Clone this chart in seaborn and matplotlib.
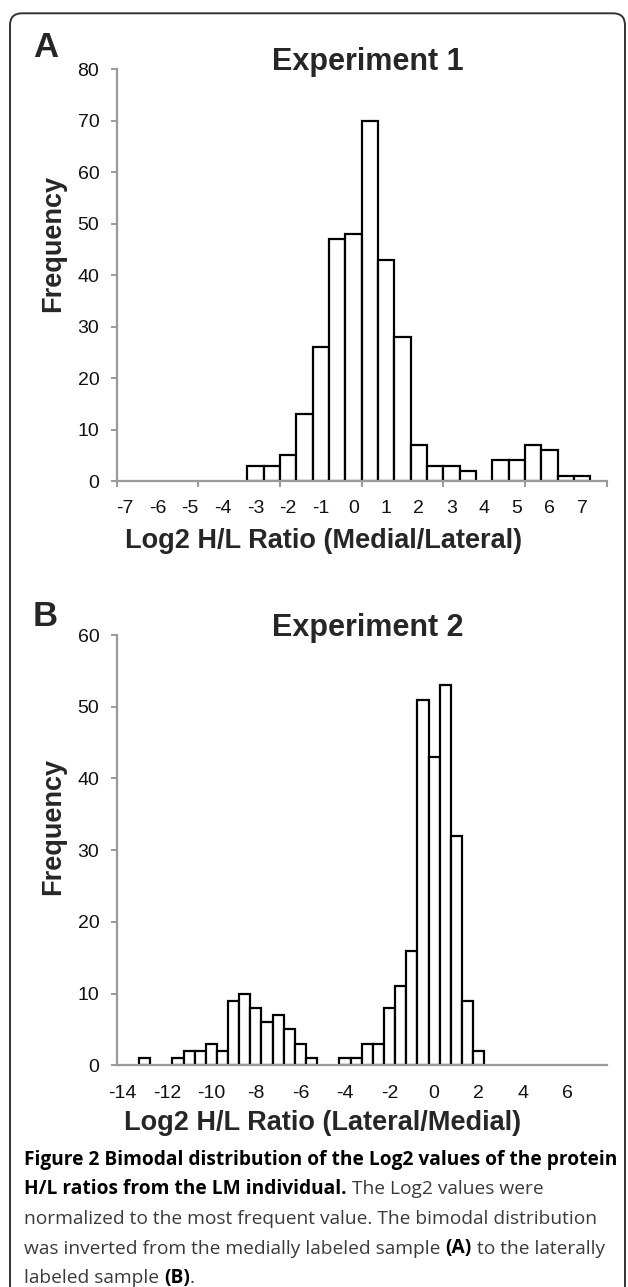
import numpy as np
import pandas as pd
import matplotlib
matplotlib.use("Agg")
import matplotlib.pyplot as plt
import seaborn as sns
from matplotlib.patches import FancyBboxPatch
from matplotlib.transforms import IdentityTransform

# ---------------- data ----------------
# Panel A: bin centres (Log2 H/L, Medial/Lateral) and frequencies
a_bins = [-7.0, -6.5, -6.0, -5.5, -5.0, -4.5, -4.0, -3.5, -3.0, -2.5,
          -2.0, -1.5, -1.0, -0.5, 0.0, 0.5, 1.0, 1.5, 2.0, 2.5,
          3.0, 3.5, 4.0, 4.5, 5.0, 5.5, 6.0, 6.5, 7.0, 7.5]
a_counts = [0, 0, 0, 0, 0, 0, 0, 0, 3, 3,
            5, 13, 26, 47, 48, 70, 43, 28, 7, 3,
            3, 2, 0, 4, 4, 7, 6, 1, 1, 0]
a_tick_values = [-7, -6, -5, -4, -3, -2, -1, 0, 1, 2, 3, 4, 5, 6, 7]
a_tick_labels = ["-7", "-6", "-5", "-4", "-3", "-2", "-1", "0", "1", "2", "3", "4", "5", "6", "7"]
a_yticks = [0, 10, 20, 30, 40, 50, 60, 70, 80]

# Panel B: bin centres (Log2 H/L, Lateral/Medial) and frequencies
b_bins = [-14.0, -13.5, -13.0, -12.5, -12.0, -11.5, -11.0, -10.5, -10.0, -9.5,
          -9.0, -8.5, -8.0, -7.5, -7.0, -6.5, -6.0, -5.5, -5.0, -4.5,
          -4.0, -3.5, -3.0, -2.5, -2.0, -1.5, -1.0, -0.5, 0.0, 0.5,
          1.0, 1.5, 2.0, 2.5, 3.0, 3.5, 4.0, 4.5, 5.0, 5.5,
          6.0, 6.5, 7.0, 7.5]
b_counts = [0, 0, 1, 0, 0, 1, 2, 2, 3, 2,
            9, 10, 8, 6, 7, 5, 3, 1, 0, 0,
            1, 1, 3, 3, 8, 11, 16, 51, 43, 53,
            32, 9, 2, 0, 0, 0, 0, 0, 0, 0,
            0, 0, 0, 0]
b_tick_values = [-14, -12, -10, -8, -6, -4, -2, 0, 2, 4, 6]
b_tick_labels = ["-14", "-12", "-10", "-8", "-6", "-4", "-2", "0", "2", "4", "6"]
b_yticks = [0, 10, 20, 30, 40, 50, 60]

title_a = "Experiment 1"
title_b = "Experiment 2"
xlabel_a = "Log2 H/L Ratio (Medial/Lateral)"
xlabel_b = "Log2 H/L Ratio (Lateral/Medial)"
ylabel = "Frequency"

caption_lines = [
    [("Figure 2 Bimodal distribution of the Log2 values of the protein", True)],
    [("H/L ratios from the LM individual.", True), (" The Log2 values were", False)],
    [("normalized to the most frequent value. The bimodal distribution", False)],
    [("was inverted from the medially labeled sample ", False), ("(A)", True),
     (" to the laterally", False)],
    [("labeled sample ", False), ("(B)", True), (".", False)],
]

# ---------------- layout ----------------
W, H = 628, 1287
sns.set_theme(style="white")
plt.rcParams["font.family"] = ["Liberation Sans", "DejaVu Sans"]
fig = plt.figure(figsize=(W / 100, H / 100), dpi=100)
fig.patch.set_facecolor("white")


def fx(x):
    return x / W


def fy(y):
    return 1 - y / H


AX_GRAY = "#9a9a9a"
TICK_FS = 14
LABEL_FS = 19.5
TITLE_FS = 22


def make_axes(top, bottom):
    left, right = 116.7, 606.7
    return fig.add_axes([fx(left), fy(bottom), (right - left) / W, (bottom - top) / H])


def style_axes(ax, xlim, ylim, yticks, tvals, tlabels, minor=None):
    ax.set_xlim(*xlim)
    ax.set_ylim(*ylim)
    ax.set_facecolor("white")
    for s in ["top", "right"]:
        ax.spines[s].set_visible(False)
    for s in ["left", "bottom"]:
        ax.spines[s].set_color(AX_GRAY)
        ax.spines[s].set_linewidth(1.6)
        ax.spines[s].set_zorder(5)
    ax.set_yticks(yticks)
    ax.set_yticklabels([str(v) for v in yticks])
    ax.set_xticks(tvals)
    ax.set_xticklabels(tlabels)
    ax.tick_params(axis="y", which="major", direction="out", length=4, width=1.4,
                   color=AX_GRAY, pad=8.5, labelsize=TICK_FS, labelcolor="#111111", left=True)
    ax.tick_params(axis="x", which="major", length=0, pad=14.0,
                   labelsize=TICK_FS, labelcolor="#111111", bottom=True)
    if minor is not None:
        ax.set_xticks(minor, minor=True)
        ax.tick_params(axis="x", which="minor", direction="out", length=4, width=1.4,
                       color=AX_GRAY, bottom=True)
    ax.set_xlabel("")
    ax.set_ylabel("")
    ax.grid(False)


def draw_bars(ax, bins, counts):
    df = pd.DataFrame({"bin": bins, "count": counts})
    df = df[df["count"] > 0]
    sns.barplot(data=df, x="bin", y="count", native_scale=True, width=1.0,
                color="white", saturation=1, edgecolor="black", linewidth=1.6,
                errorbar=None, ax=ax)


# Panel A
axA = make_axes(69.3, 481.0)
draw_bars(axA, a_bins, a_counts)
style_axes(axA, (-7.25, 7.75), (0, 80), a_yticks, a_tick_values, a_tick_labels,
           minor=[-7.25, -4.75, -2.25, 0.25, 2.75, 5.25, 7.75])

# Panel B
axB = make_axes(635.0, 1065.3)
draw_bars(axB, b_bins, b_counts)
style_axes(axB, (-14.25, 7.75), (0, 60), b_yticks, b_tick_values, b_tick_labels)

# titles, labels, panel letters
fig.text(fx(368), fy(70), title_a, ha="center", va="baseline", fontsize=TITLE_FS, fontweight="bold")
fig.text(fx(368), fy(636), title_b, ha="center", va="baseline", fontsize=TITLE_FS, fontweight="bold")
fig.text(fx(324), fy(548.5), xlabel_a, ha="center", va="baseline", fontsize=LABEL_FS, fontweight="bold")
fig.text(fx(323), fy(1130.5), xlabel_b, ha="center", va="baseline", fontsize=LABEL_FS, fontweight="bold")
fig.text(fx(53), fy(243), ylabel, ha="center", va="center", rotation=90, fontsize=LABEL_FS, fontweight="bold")
fig.text(fx(53), fy(826), ylabel, ha="center", va="center", rotation=90, fontsize=LABEL_FS, fontweight="bold")
fig.text(fx(33), fy(57), "A", ha="left", va="baseline", fontsize=25, fontweight="bold")
fig.text(fx(33), fy(626), "B", ha="left", va="baseline", fontsize=25, fontweight="bold")

# border
box = FancyBboxPatch((10, -40), 615, H - 13.3 + 40, boxstyle="round,pad=0,rounding_size=12",
                     transform=IdentityTransform(), fill=False, edgecolor="#333333",
                     linewidth=1.4, zorder=0)
fig.patches.append(box)

# caption
renderer = fig.canvas.get_renderer()
CAP_FONT = ["Open Sans", "DejaVu Sans"]


def text_width(s, bold, size):
    t1 = fig.text(0, 0, "|" + s + "|", fontsize=size, fontweight="bold" if bold else "normal",
                  family=CAP_FONT)
    t2 = fig.text(0, 0, "||", fontsize=size, fontweight="bold" if bold else "normal",
                  family=CAP_FONT)
    w = t1.get_window_extent(renderer).width - t2.get_window_extent(renderer).width
    t1.remove()
    t2.remove()
    return w


cap_size = 10 * 594.0 / text_width(caption_lines[0][0][0], True, 10)
baselines = [1165, 1194.5, 1224, 1253.5, 1283]
for line, yb in zip(caption_lines, baselines):
    x = 24.0
    for s, bold in line:
        fig.text(fx(x), fy(yb), s, ha="left", va="baseline", fontsize=cap_size,
                 fontweight="bold" if bold else "normal", family=CAP_FONT,
                 color="#000000" if bold else "#3a3a3a")
        x += text_width(s, bold, cap_size)

fig.savefig("out.png", dpi=100, facecolor="white")
